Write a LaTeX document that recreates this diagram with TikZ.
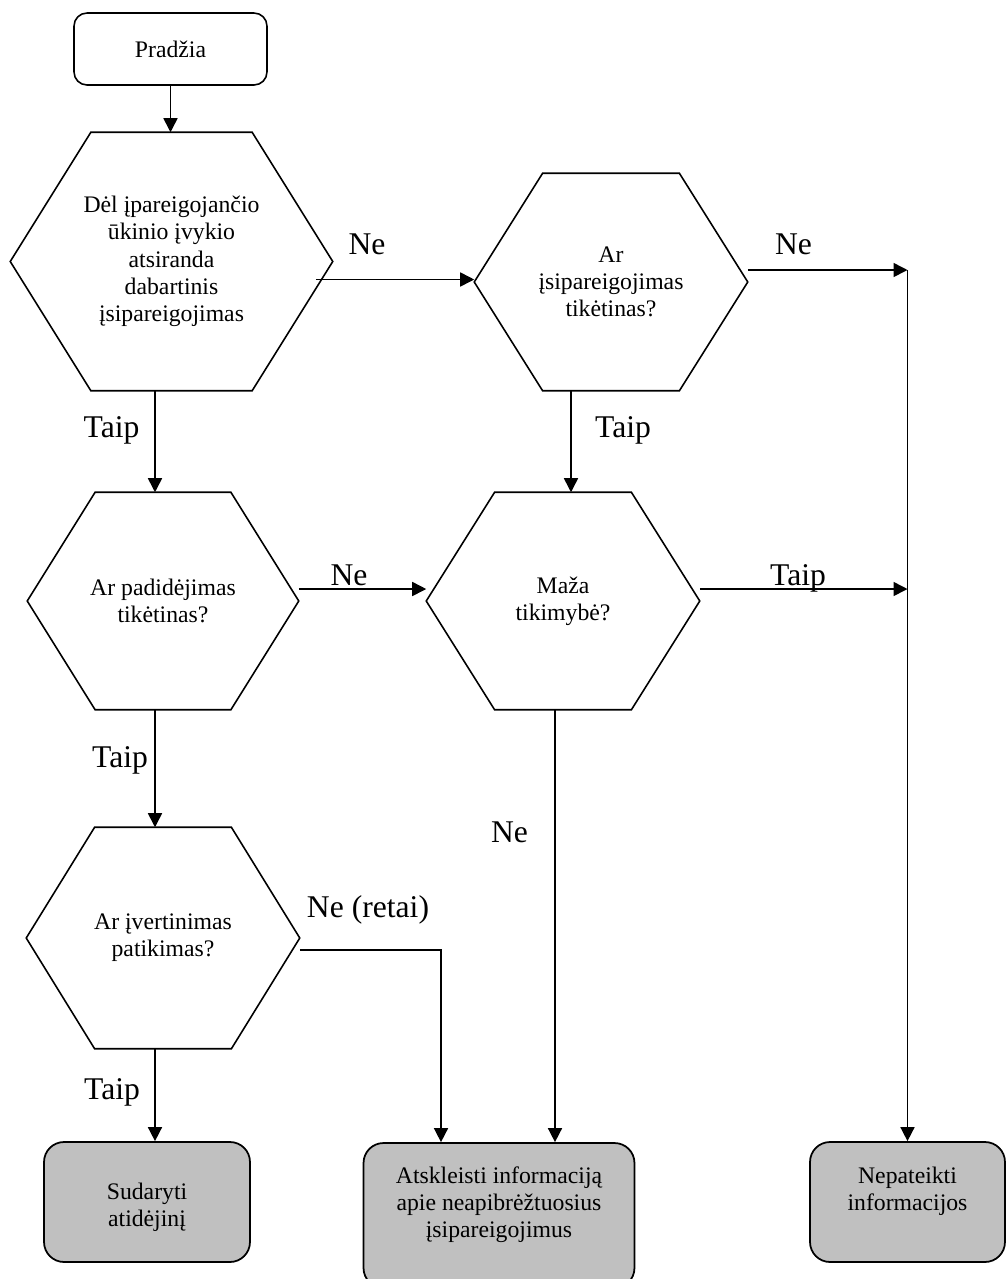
\documentclass[tikz,border=0pt]{standalone}
\usepackage{fontspec}
\setmainfont{Liberation Serif}
\usetikzlibrary{arrows.meta,calc}
\definecolor{boxgray}{RGB}{192,192,192}

\begin{document}
\begin{tikzpicture}[
x=0.02cm, y=-0.02cm,
line width=0.9pt,
>={Triangle[length=0.28cm,width=0.28cm]},
startnode/.style={rectangle, draw, rounded corners=0.26cm, inner sep=0pt, minimum width=3.86cm, minimum height=1.44cm, font=\fontsize{13.5}{15.5}\selectfont},
decision/.style={rectangle, inner sep=0pt, align=center, minimum width=5.44cm, minimum height=4.32cm, font=\fontsize{13.5}{15.5}\selectfont},
endnode/.style={rectangle, draw, line width=1pt, fill=boxgray, rounded corners=0.4cm, inner sep=0pt, align=center, minimum height=2.4cm, font=\fontsize{13.5}{15.5}\selectfont},
answer/.style={anchor=base, inner sep=0pt, font=\fontsize{18}{21}\selectfont},
]
\path[use as bounding box, clip] (0,0) rectangle (1007,1279);

%Nodes
\node[startnode] (start) at (170.5,49) {Pradžia};
\node[decision, minimum width=6.42cm, minimum height=5.14cm] (q1) at (171.5,261.5)
  {Dėl įpareigojančio\\ūkinio įvykio\\atsiranda\\dabartinis\\įsipareigojimas};
\node[decision] (q2) at (611,282) {Ar\\įsipareigojimas\\tikėtinas?};
\node[decision, minimum width=5.4cm] (q3) at (163,601) {Ar padidėjimas\\tikėtinas?};
\node[decision] (q4) at (563,601) {Maža\\tikimybė?};
\node[decision, minimum height=4.4cm] (q5) at (163,938) {Ar įvertinimas\\patikimas?};

\node[endnode, minimum width=4.12cm] (end1) at (147,1202) {\mbox{}\\Sudaryti\\atidėjinį};
\node[endnode, minimum width=5.42cm, minimum height=2.9cm] (end2) at (499,1215.5)
  {Atskleisti informaciją\\apie neapibrėžtuosius\\įsipareigojimus\\\mbox{}};
\node[endnode, minimum width=3.9cm] (end3) at (907.5,1202) {Nepateikti\\informacijos\\\mbox{}};

%Hexagons
\foreach \q in {q1,q2,q3,q4,q5}
  \draw ($(\q.north west)!0.25!(\q.north east)$) -- ($(\q.north west)!0.75!(\q.north east)$)
     -- (\q.east) -- ($(\q.south west)!0.75!(\q.south east)$)
     -- ($(\q.south west)!0.25!(\q.south east)$) -- (\q.west) -- cycle;

%Answers
\node[answer] (ne1) at (367,254) {Ne};
\node[answer] (ne2) at (793.5,254) {Ne};
\node[answer] (taip1) at (111.5,437) {Taip};
\node[answer] (taip2) at (623,437) {Taip};
\node[answer] (ne3) at (349,585) {Ne};
\node[answer] (taip3) at (798,585) {Taip};
\node[answer] (taip4) at (120,767) {Taip};
\node[answer] (ne4) at (509.5,842) {Ne};
\node[answer] (ne5) at (368,917) {Ne (retai)};
\node[answer] (taip5) at (112,1099) {Taip};

%Lines
\coordinate (n1) at ([xshift=-0.34cm,yshift=-0.36cm]q1.east);
\coordinate (j1) at ([yshift=0.24cm]q2.east -| end3.north);
\coordinate (j2) at ([yshift=0.24cm]q4.east -| end3.north);

\draw[->] (start.south) -- (start.south |- q1.north);
\draw[->] (n1) -- (n1 -| q2.west);
\draw[->] (q2.east |- j1) -- (j1);
\draw[->] (j1) -- (end3.north);
\draw[->] ([xshift=-0.16cm]q3.north |- q1.south) -- ([xshift=-0.16cm]q3.north);
\draw[->] ([xshift=0.16cm]q4.north |- q2.south) -- ([xshift=0.16cm]q4.north);
\draw[->] ([yshift=0.24cm]q3.east) -- ([yshift=0.24cm]q3.east -| q4.west);
\draw[->] ([yshift=0.24cm]q4.east) -- (j2);
\draw[->] ([xshift=-0.16cm]q3.south) -- ([xshift=-0.16cm]q5.north);
\draw[->] ([xshift=-0.16cm]q4.south) -- ([xshift=-0.16cm]q4.south |- end2.north);
\draw[->] ([yshift=-0.24cm]q5.east) -| ([xshift=-1.16cm]end2.north);
\draw[->] ([xshift=-0.16cm]q5.south) -- ([xshift=-0.16cm]q5.south |- end1.north);
\end{tikzpicture}
\end{document}
